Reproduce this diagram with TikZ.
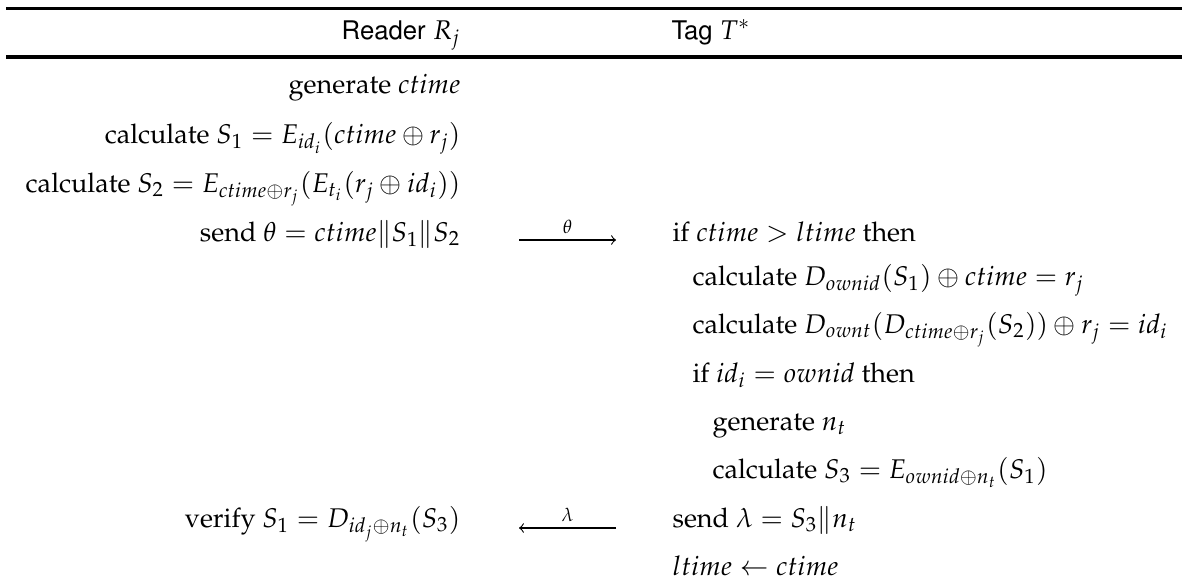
\documentclass[tikz,border=0pt]{standalone}
\usepackage[T1]{fontenc}
\usepackage{amsmath}
\usepackage{mathpazo}
\usepackage[scaled=0.95]{helvet}

\tikzset{
  rdr/.style={anchor=base east, inner sep=0pt},
  tag/.style={anchor=base west, inner sep=0pt},
  hdr/.style={font=\sffamily, inner sep=0pt},
  msg/.style={->, line width=0.4pt},
  lbl/.style={above, inner sep=2pt, font=\scriptsize},
  hrule/.style={line width=1.3pt}
}

\begin{document}
\begin{tikzpicture}[x=0.37pt,y=-0.37pt]
  \useasboundingbox (0,0) rectangle (1182,586);

  % header
  \coordinate (topL) at (6,8.5);
  \coordinate (topR) at (1182,8.5);
  \coordinate (midL) at (6,57);
  \coordinate (midR) at (1182,57);
  \draw[hrule] (topL) -- (topR);
  \node[hdr, rdr] (rdrhead) at (461,39) {Reader $R_j$};
  \node[hdr, tag] (taghead) at (671,39) {Tag $T^*$};
  \draw[hrule] (midL) -- (midR);

  % reader side
  \node[rdr] (r1) at (461,93) {generate $ctime$};
  \node[rdr] (r2) at (461,143) {calculate $S_1 = E_{id_i}(ctime \oplus r_j)$};
  \node[rdr] (r3) at (461,192) {calculate $S_2 = E_{ctime \oplus r_j}(E_{t_i}(r_j \oplus id_i))$};
  \node[rdr] (r4) at (461,241) {send $\theta = ctime \| S_1 \| S_2$};
  \node[rdr] (r5) at (461,527) {verify $S_1 = D_{id_j \oplus n_t}(S_3)$};

  % tag side
  \node[tag] (t1) at (672,241) {if $ctime > ltime$ then};
  \node[tag] (t2) at (692,285) {calculate $D_{ownid}(S_1) \oplus ctime = r_j$};
  \node[tag] (t3) at (692,333) {calculate $D_{ownt}(D_{ctime \oplus r_j}(S_2)) \oplus r_j = id_i$};
  \node[tag] (t4) at (692,382) {if $id_i = ownid$ then};
  \node[tag] (t5) at (712,430) {generate $n_t$};
  \node[tag] (t6) at (712,478) {calculate $S_3 = E_{ownid \oplus n_t}(S_1)$};
  \node[tag] (t7) at (672,527) {send $\lambda = S_3 \| n_t$};
  \node[tag] (t8) at (672,575) {$ltime \leftarrow ctime$};

  % messages
  \coordinate (thetaL) at (519,240);
  \coordinate (thetaR) at (616,240);
  \coordinate (lamL) at (519,528);
  \coordinate (lamR) at (616,528);
  \draw[msg] (thetaL) -- node[lbl] {$\theta$} (thetaR);
  \draw[msg] (lamR) -- node[lbl] {$\lambda$} (lamL);
\end{tikzpicture}
\end{document}
